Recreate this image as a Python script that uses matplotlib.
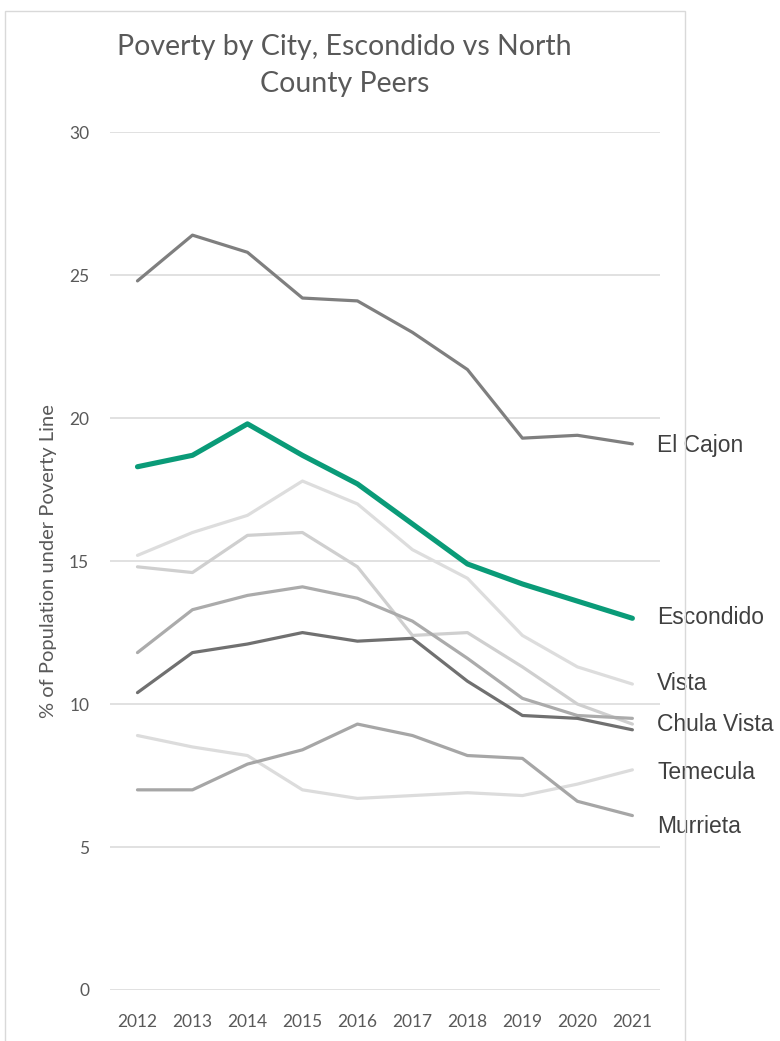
import matplotlib
matplotlib.use("Agg")
import matplotlib.pyplot as plt
from matplotlib.patches import Rectangle

# poverty rate (% of population under the poverty line), 2012-2021
years = [2012, 2013, 2014, 2015, 2016, 2017, 2018, 2019, 2020, 2021]

el_cajon = [24.8, 26.4, 25.8, 24.2, 24.1, 23.0, 21.7, 19.3, 19.4, 19.1]
escondido = [18.3, 18.7, 19.8, 18.7, 17.7, 16.3, 14.9, 14.2, 13.6, 13.0]
vista = [15.2, 16.0, 16.6, 17.8, 17.0, 15.4, 14.4, 12.4, 11.3, 10.7]
chula_vista = [14.8, 14.6, 15.9, 16.0, 14.8, 12.4, 12.5, 11.3, 10.0, 9.3]
peer_a = [11.8, 13.3, 13.8, 14.1, 13.7, 12.9, 11.6, 10.2, 9.6, 9.5]
peer_b = [10.4, 11.8, 12.1, 12.5, 12.2, 12.3, 10.8, 9.6, 9.5, 9.1]
temecula = [8.9, 8.5, 8.2, 7.0, 6.7, 6.8, 6.9, 6.8, 7.2, 7.7]
murrieta = [7.0, 7.0, 7.9, 8.4, 9.3, 8.9, 8.2, 8.1, 6.6, 6.1]

y_ticks = [0, 5, 10, 15, 20, 25, 30]

TXT = "#595959"
GREEN = "#0a9b78"

fig = plt.figure(figsize=(7.8, 10.41), dpi=100)
ax = fig.add_axes([0.141, 0.049, 0.705, 0.824])

# (series, colour, width, label, label nudge)
series = [
    (temecula, "#dcdcdc", 2.3, "Temecula", -0.08),
    (vista, "#dddddd", 2.3, "Vista", 0.03),
    (chula_vista, "#cfcfcf", 2.3, "Chula Vista", 0.0),
    (murrieta, "#a6a6a6", 2.3, "Murrieta", -0.37),
    (peer_a, "#ababab", 2.3, None, 0),
    (peer_b, "#707070", 2.3, None, 0),
    (el_cajon, "#7f7f7f", 2.3, "El Cajon", -0.04),
    (escondido, GREEN, 3.7, "Escondido", 0.04),
]

for vals, col, lw, name, nudge in series:
    ax.plot(years, vals, color=col, lw=lw, solid_capstyle="round",
            solid_joinstyle="round", zorder=3)
    if name:
        ax.text(2021.45, vals[-1] + nudge, name, fontsize=16.5,
                family="Liberation Sans", color="#404040",
                va="center", ha="left", clip_on=False, zorder=5)

ax.set_xlim(2011.5, 2021.5)
ax.set_ylim(0, 30)
ax.set_yticks(y_ticks)
ax.set_xticks(years)
ax.set_xticklabels([str(y) for y in years])
ax.grid(axis="y", color="#d9d9d9", lw=1.1, zorder=0)
ax.tick_params(length=0, labelcolor=TXT, labelsize=12.5)
ax.tick_params(axis="x", pad=17)
ax.tick_params(axis="y", pad=15)
for lab in ax.get_xticklabels() + ax.get_yticklabels():
    lab.set_family("Lato")
for s in ax.spines.values():
    s.set_visible(False)

ax.set_ylabel("% of Population under Poverty Line", fontsize=14.5,
              family="Lato", color=TXT, labelpad=9)

fig.text(0.442, 0.937, "Poverty by City, Escondido vs North\nCounty Peers",
         ha="center", va="center", multialignment="center",
         fontsize=20.5, family="Lato", color=TXT, linespacing=1.5)

# chart frame
fig.patches.append(Rectangle((5 / 780, -0.01), 680 / 780, 1.0 - 11 / 1041 + 0.01,
                             transform=fig.transFigure, fill=False,
                             edgecolor="#d9d9d9", lw=1.0, zorder=0))

fig.savefig("out.png", dpi=100, facecolor="white")
